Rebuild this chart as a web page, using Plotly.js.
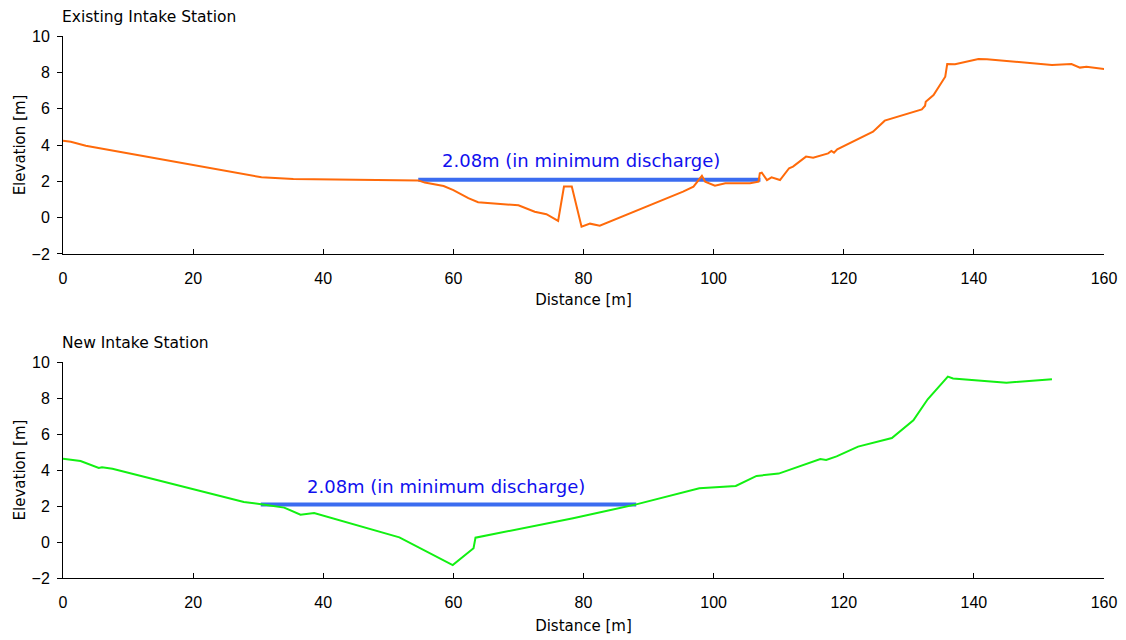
<!DOCTYPE html>
<html>
<head>
<meta charset="utf-8">
<script src="https://cdn.plot.ly/plotly-3.0.1.min.js"></script>
<style>html,body{margin:0;padding:0;background:#fff;}#chart{width:1126px;height:640px;}</style>
</head>
<body>
<div id="chart"></div>
<script>
// Existing intake station cross-section
const existingDistance = [0, 1.2, 3.5, 30.5, 35.4, 51.8, 54.6, 55.6, 58.5, 60.0, 62.3, 63.8, 70.0, 72.5, 74.3, 76.1, 77.0, 78.2, 79.7, 81.0, 82.5, 95.3, 96.9, 98.2, 98.7, 100.2, 101.8, 105.6, 106.9, 107.1, 107.4, 108.2, 108.9, 110.2, 111.6, 112.2, 114.2, 115.3, 117.6, 118.1, 118.5, 119.0, 124.5, 126.3, 132.0, 132.5, 132.6, 133.8, 135.6, 135.9, 137.1, 140.7, 142.0, 152.0, 155.0, 156.3, 157.3, 160.1];
const existingElevation = [4.24, 4.18, 3.96, 2.22, 2.13, 2.07, 2.05, 1.93, 1.74, 1.52, 1.07, 0.85, 0.68, 0.33, 0.19, -0.18, 1.71, 1.71, -0.5, -0.33, -0.44, 1.43, 1.71, 2.30, 1.98, 1.76, 1.89, 1.89, 1.98, 2.44, 2.48, 2.07, 2.22, 2.07, 2.72, 2.81, 3.36, 3.30, 3.54, 3.67, 3.58, 3.76, 4.73, 5.34, 5.96, 6.16, 6.38, 6.75, 7.76, 8.46, 8.44, 8.73, 8.72, 8.40, 8.46, 8.26, 8.31, 8.18];
const existingWaterX = [54.6, 107.2];
const existingWaterY = [2.08, 2.08];

// New intake station cross-section
const newDistance = [0, 2.7, 5.5, 6.0, 7.6, 27.8, 30.2, 34.0, 36.5, 38.6, 51.7, 59.9, 63.1, 63.4, 78.4, 88.1, 97.8, 98.9, 103.4, 106.6, 110.0, 116.4, 117.3, 118.9, 122.2, 127.4, 130.7, 132.9, 136.0, 136.8, 140.4, 145.0, 152.0];
const newElevation = [4.63, 4.5, 4.11, 4.15, 4.07, 2.22, 2.11, 1.91, 1.52, 1.61, 0.26, -1.28, -0.35, 0.24, 1.32, 2.09, 2.98, 3.0, 3.11, 3.67, 3.80, 4.61, 4.56, 4.76, 5.30, 5.78, 6.76, 7.93, 9.19, 9.09, 9.0, 8.85, 9.04];
const newWaterX = [30.4, 88.1];
const newWaterY = [2.08, 2.08];

const panelTitles = ["Existing Intake Station", "New Intake Station"];
const waterLabel = "2.08m (in minimum discharge)";
const xTicks = [0, 20, 40, 60, 80, 100, 120, 140, 160];
const yTicks = [-2, 0, 2, 4, 6, 8, 10];

const TEXTFONT = "DejaVu Sans, sans-serif";
const NUMFONT = "Liberation Sans, Arial, sans-serif";
const blue = "#3b6cf0";

const traces = [
  {x: existingWaterX, y: existingWaterY, xaxis: "x", yaxis: "y", mode: "lines", line: {color: blue, width: 4}, hoverinfo: "skip"},
  {x: existingDistance, y: existingElevation, xaxis: "x", yaxis: "y", mode: "lines", line: {color: "#ff6a0a", width: 2}},
  {x: newWaterX, y: newWaterY, xaxis: "x2", yaxis: "y2", mode: "lines", line: {color: blue, width: 4}, hoverinfo: "skip"},
  {x: newDistance, y: newElevation, xaxis: "x2", yaxis: "y2", mode: "lines", line: {color: "#12f012", width: 2}}
];

function xAxis(anchor, standoff) {
  return {
    anchor: anchor, domain: [0, 1], range: [0, 160], tickvals: xTicks,
    showgrid: false, zeroline: false, showline: true, linecolor: "#000", linewidth: 1,
    ticks: "inside", ticklen: 5, tickcolor: "#000", ticklabelstandoff: 10,
    tickfont: {family: NUMFONT, size: 16, color: "#000"},
    title: {text: "Distance [m]", font: {family: TEXTFONT, size: 15, color: "#000"}, standoff: standoff}
  };
}
function yAxis(anchor, domain) {
  return {
    anchor: anchor, domain: domain, range: [-2, 10], tickvals: yTicks,
    showgrid: false, zeroline: false, showline: true, linecolor: "#000", linewidth: 1,
    ticks: "outside", ticklen: 5, tickcolor: "#000", ticklabelstandoff: 4,
    tickfont: {family: NUMFONT, size: 16, color: "#000"},
    title: {text: "Elevation [m]", font: {family: TEXTFONT, size: 15, color: "#000"}, standoff: 2}
  };
}

const layout = {
  width: 1126, height: 640,
  margin: {l: 63, r: 22, t: 36, b: 62},
  paper_bgcolor: "#fff", plot_bgcolor: "#fff",
  showlegend: false,
  font: {family: TEXTFONT},
  xaxis: xAxis("y", 8),
  yaxis: yAxis("x", [0.5978, 1]),
  xaxis2: xAxis("y2", 10),
  yaxis2: yAxis("x2", [0, 0.3985]),
  annotations: [
    {text: panelTitles[0], xref: "paper", yref: "paper", x: 0, y: 1, xanchor: "left", yanchor: "bottom", yshift: 8, xshift: -3, showarrow: false, font: {family: TEXTFONT, size: 15.5, color: "#000"}},
    {text: panelTitles[1], xref: "paper", yref: "paper", x: 0, y: 0.3985, xanchor: "left", yanchor: "bottom", yshift: 8, xshift: -3, showarrow: false, font: {family: TEXTFONT, size: 15.5, color: "#000"}},
    {text: waterLabel, xref: "x", yref: "y", x: 79.6, y: 3.12, xanchor: "center", yanchor: "middle", showarrow: false, font: {family: TEXTFONT, size: 18, color: "#1010ee"}},
    {text: waterLabel, xref: "x2", yref: "y2", x: 58.9, y: 3.06, xanchor: "center", yanchor: "middle", showarrow: false, font: {family: TEXTFONT, size: 18, color: "#1010ee"}}
  ]
};

Plotly.newPlot("chart", traces, layout, {displayModeBar: false, staticPlot: true});
</script>
</body>
</html>
